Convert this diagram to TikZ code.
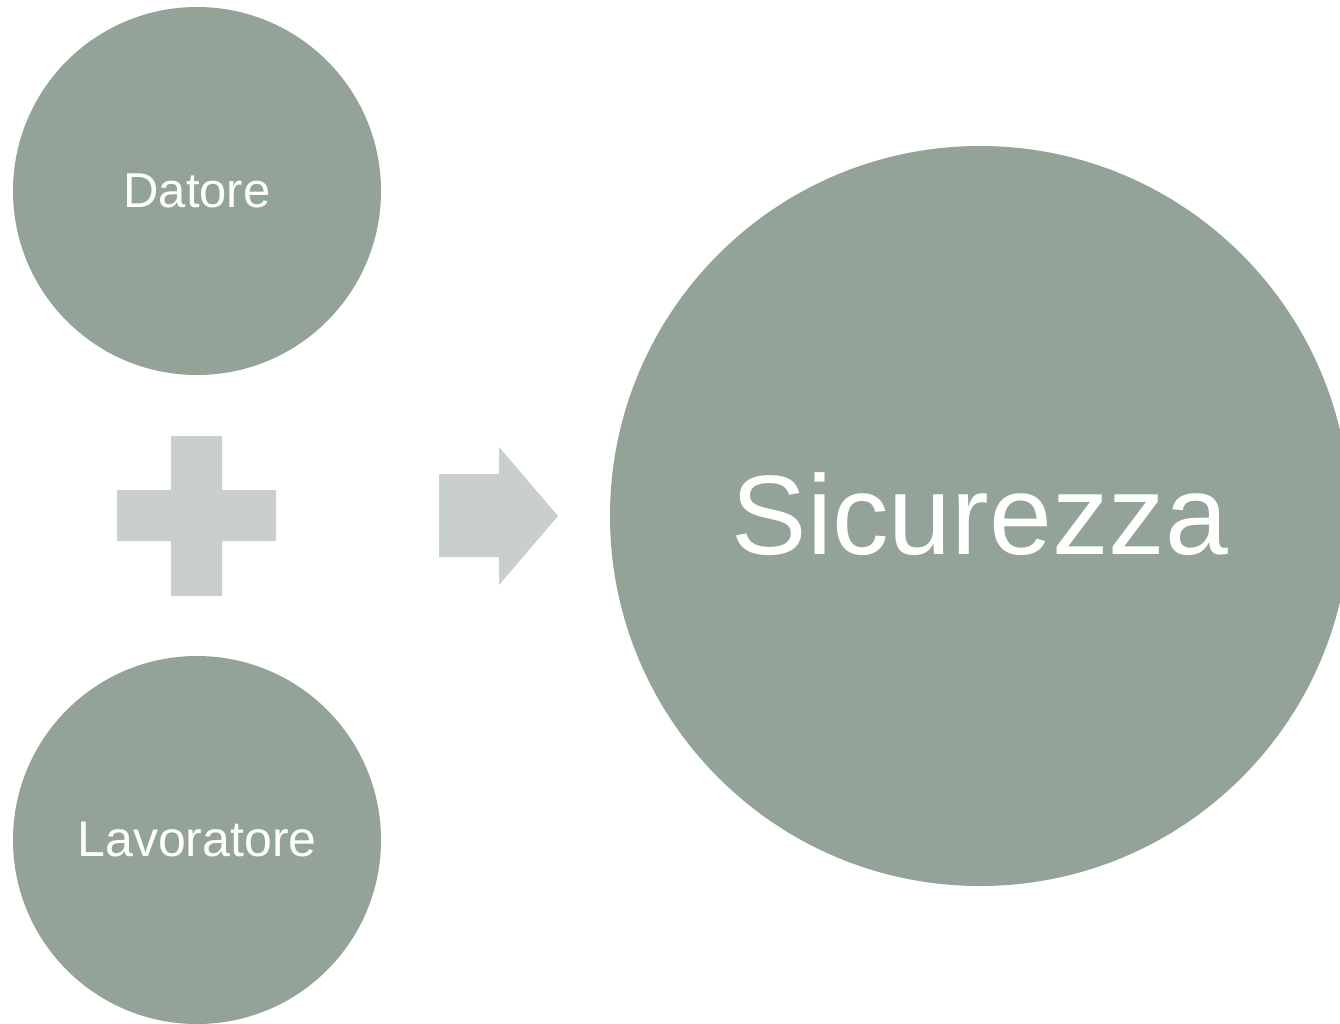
\documentclass[tikz,border=0pt]{standalone}
\usepackage{fontspec}
\setmainfont{Liberation Sans}
\definecolor{circfill}{HTML}{93A398}
\definecolor{shapefill}{HTML}{C9D0CB}
\begin{document}
\begin{tikzpicture}[x=1pt,y=-1pt,
  bubble/.style={circle,fill=circfill,draw=none,text=white,inner sep=0pt},
  glyph/.style={fill=shapefill,draw=none}]
\useasboundingbox (0,0) rectangle (1340,1023);
\begin{scope}
\clip (0,0) rectangle (1340,1023);
\node[bubble,minimum size=368pt,font=\fontsize{49}{58}\selectfont] (datore) at (197,191) {Datore};
\node[bubble,minimum size=368pt,font=\fontsize{50}{60}\selectfont] (lav) at (197,840) {Lavoratore};
\node[bubble,minimum size=740pt,font=\fontsize{113}{130}\selectfont] (sic) at (980,516) {\raisebox{4pt}{Sicurezza}};
\end{scope}
\fill[glyph] (171,436) -- (222,436) -- (222,490) -- (276,490) -- (276,541) -- (222,541) -- (222,596) -- (171,596) -- (171,541) -- (117,541) -- (117,490) -- (171,490) -- cycle;
\fill[glyph] (439,474) -- (499,474) -- (499,447) -- (558,516) -- (499,585) -- (499,557) -- (439,557) -- cycle;
\end{tikzpicture}
\end{document}
